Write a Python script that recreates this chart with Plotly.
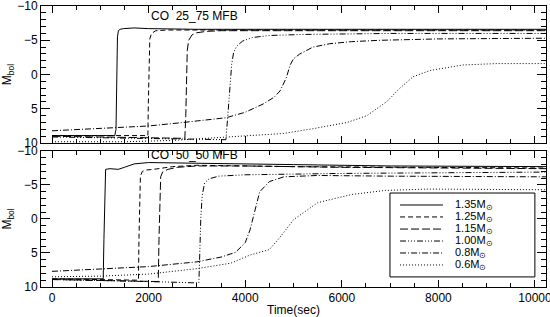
import plotly.graph_objects as go

# ---------------- data ----------------
labels = ["1.35M<sub>⊙</sub>", "1.25M<sub>⊙</sub>", "1.15M<sub>⊙</sub>",
          "1.00M<sub>⊙</sub>", "0.8M<sub>⊙</sub>", "0.6M<sub>⊙</sub>"]
dashes = ["solid", "5px,3px", "8px,3px", "6px,2px,1px,2px,1px,2px,1px,2px",
          "6px,2px,1px,2px", "1px,2px"]

# Top panel: CO 25_75 MFB
top135_x = [0, 500, 1000, 1300, 1325, 1340, 1355, 1375, 1410, 1480, 1700, 2000, 3000, 5000, 7000, 10228]
top135_y = [8.9, 8.9, 8.9, 8.9, 8.0, 0.0, -5.5, -6.4, -6.6, -6.7, -6.8, -6.7, -6.6, -6.6, -6.6, -6.6]
top125_x = [0, 1000, 1900, 1985, 1995, 2005, 2025, 2060, 2150, 2400, 3000, 5000, 10228]
top125_y = [8.9, 8.9, 8.9, 8.9, 4.0, -2.0, -5.2, -6.0, -6.4, -6.5, -6.5, -6.5, -6.5]
top115_x = [0, 1000, 2000, 2750, 2770, 2785, 2800, 2830, 2900, 3000, 3200, 3500, 4500, 10228]
top115_y = [9.0, 9.1, 9.2, 9.3, 6.0, 0.0, -3.5, -5.0, -5.8, -6.1, -6.3, -6.4, -6.4, -6.4]
top100_x = [0, 1000, 2000, 3000, 3600, 3640, 3680, 3720, 3760, 3830, 3950, 4150, 4500, 5200, 7000, 10228]
top100_y = [9.1, 9.2, 9.3, 9.4, 9.5, 6.0, 2.0, -1.5, -3.2, -4.2, -4.9, -5.4, -5.7, -5.85, -6.0, -6.0]
top080_x = [0, 1000, 2000, 2700, 3600, 4000, 4370, 4600, 4720, 4850, 4930, 5000, 5130, 5400, 5750, 6200, 6800, 8000, 10228]
top080_y = [8.2, 7.9, 7.5, 7.0, 6.3, 5.5, 4.3, 3.3, 2.4, 0.5, -1.4, -2.3, -3.0, -4.0, -4.5, -4.8, -5.0, -5.2, -5.3]
top060_x = [0, 1500, 2500, 3500, 4200, 4780, 5400, 6100, 6520, 6940, 7200, 7480, 7830, 8510, 9210, 10228]
top060_y = [9.8, 9.8, 9.6, 9.2, 8.9, 8.6, 7.9, 7.0, 6.0, 3.9, 2.0, 0.3, -0.6, -1.4, -1.6, -1.6]

# Bottom panel: CO 50_50 MFB
bot135_x = [0, 500, 1000, 1060, 1075, 1090, 1110, 1200, 1370, 1500, 1700, 2000, 2400, 3000, 5000, 7000, 10228]
bot135_y = [8.8, 8.8, 8.8, 8.8, 3.0, -4.0, -7.3, -7.4, -7.3, -7.6, -8.1, -8.3, -8.3, -8.2, -8.0, -7.8, -7.7]
bot125_x = [0, 1000, 1700, 1790, 1800, 1810, 1830, 1870, 1950, 2100, 2500, 3000, 5000, 10228]
bot125_y = [8.8, 8.9, 9.0, 9.0, 3.0, -3.0, -6.3, -7.0, -7.2, -7.3, -7.7, -7.9, -7.7, -7.5]
bot115_x = [0, 1000, 2000, 2200, 2215, 2230, 2250, 2290, 2400, 2600, 3000, 4000, 6000, 10228]
bot115_y = [8.9, 9.0, 9.1, 9.2, 3.0, -3.0, -6.2, -6.9, -7.3, -7.6, -7.8, -7.8, -7.6, -7.4]
bot100_x = [0, 1000, 2000, 3000, 3040, 3060, 3080, 3110, 3160, 3250, 3450, 4000, 6000, 10228]
bot100_y = [8.9, 9.0, 9.2, 9.4, 9.4, 5.0, 0.0, -3.5, -5.3, -5.9, -6.3, -6.5, -6.7, -6.9]
bot080_x = [0, 1000, 2000, 3000, 3500, 3800, 4000, 4100, 4200, 4300, 4500, 4800, 5500, 7000, 10228]
bot080_y = [7.7, 7.4, 7.0, 6.3, 5.6, 4.9, 3.5, 1.6, -1.3, -4.0, -5.5, -6.2, -6.4, -6.3, -6.2]
bot060_x = [0, 1000, 2000, 3000, 3700, 4100, 4500, 4720, 5000, 5500, 6200, 6900, 7800, 10228]
bot060_y = [8.5, 8.4, 8.1, 7.3, 6.5, 5.3, 4.5, 2.7, 0.1, -2.4, -3.6, -4.2, -4.4, -4.3]

top_series = [(top135_x, top135_y), (top125_x, top125_y), (top115_x, top115_y),
              (top100_x, top100_y), (top080_x, top080_y), (top060_x, top060_y)]
bot_series = [(bot135_x, bot135_y), (bot125_x, bot125_y), (bot115_x, bot115_y),
              (bot100_x, bot100_y), (bot080_x, bot080_y), (bot060_x, bot060_y)]

x_range = [-228, 10228]
y_range = [10, -10]

# ---------------- figure ----------------
FONT = "Liberation Sans, Arial, sans-serif"
fig = go.Figure()
for (xs, ys), d, lab in zip(top_series, dashes, labels):
    fig.add_trace(go.Scatter(x=xs, y=ys, mode="lines", name=lab, showlegend=False,
                             line=dict(color="black", width=1, dash=d),
                             xaxis="x", yaxis="y"))
for (xs, ys), d, lab in zip(bot_series, dashes, labels):
    fig.add_trace(go.Scatter(x=xs, y=ys, mode="lines", name=lab, showlegend=False,
                             line=dict(color="black", width=1, dash=d),
                             xaxis="x2", yaxis="y2"))

xcommon = dict(range=x_range, showgrid=False, zeroline=False, showline=True,
               linecolor="black", linewidth=1, mirror="ticks", ticks="inside",
               ticklen=7, tickcolor="black", tickwidth=1, dtick=2000, tick0=0,
               tickformat="d", automargin=False, ticklabeloverflow="allow",
               minor=dict(dtick=500, ticks="inside", ticklen=4, tickcolor="black"),
               tickfont=dict(family=FONT, size=12, color="black"))
ycommon = dict(range=y_range, showgrid=False, zeroline=False, showline=True,
               linecolor="black", linewidth=1, mirror="ticks", ticks="inside",
               ticklen=9, tickcolor="black", tickwidth=1, dtick=5, tick0=0,
               automargin=False, ticklabeloverflow="allow",
               minor=dict(dtick=1, ticks="inside", ticklen=5, tickcolor="black"),
               tickfont=dict(family=FONT, size=12, color="black"),
               title=dict(text="M<sub>bol</sub>", font=dict(family=FONT, size=12, color="black"),
                          standoff=6))

fig.update_layout(
    width=550, height=317,
    margin=dict(l=41, r=4, t=6, b=30, autoexpand=False),
    paper_bgcolor="white", plot_bgcolor="white",
    showlegend=False,
    xaxis=dict(**xcommon, domain=[0, 1], anchor="y", showticklabels=False, matches="x2"),
    yaxis=dict(**ycommon, domain=[0.512, 1.0], anchor="x"),
    xaxis2=dict(**xcommon, domain=[0, 1], anchor="y2"),
    yaxis2=dict(**ycommon, domain=[0.0, 0.484], anchor="x2"),
)

# x-axis title
fig.add_annotation(x=0.5, y=-0.082, xref="paper", yref="paper", text="Time(sec)",
                   showarrow=False, xanchor="center", yanchor="middle",
                   font=dict(family=FONT, size=12, color="black"))

# panel titles
fig.add_annotation(x=2008, y=-8.6, xref="x", yref="y", text="CO  25_75 MFB",
                   showarrow=False, xanchor="left", yanchor="middle",
                   font=dict(family=FONT, size=12, color="black"))
fig.add_annotation(x=2008, y=-9.4, xref="x2", yref="y2", text="CO  50_50 MFB",
                   showarrow=False, xanchor="left", yanchor="middle",
                   font=dict(family=FONT, size=12, color="black"))

# manual legend in bottom panel
lx0, lx1 = 0.691, 0.978
ly0, ly1 = 0.074, 0.691
fig.add_shape(type="rect", xref="x2 domain", yref="y2 domain", x0=lx0, x1=lx1, y0=ly0, y1=ly1,
              line=dict(color="black", width=1), fillcolor="white", layer="above")
row_y = [0.603, 0.515, 0.426, 0.338, 0.250, 0.162]
for yy, d, lab in zip(row_y, dashes, labels):
    fig.add_shape(type="line", xref="x2 domain", yref="y2 domain", x0=0.711, x1=0.796,
                  y0=yy, y1=yy, line=dict(color="black", width=1, dash=d), layer="above")
    fig.add_annotation(x=0.816, y=yy, xref="x2 domain", yref="y2 domain", text=lab,
                       showarrow=False, xanchor="left", yanchor="middle",
                       font=dict(family=FONT, size=11, color="black"))

fig.write_html("out.html", config={"displayModeBar": False},
               post_script="document.body.style.margin='0';document.body.style.overflow='hidden';")
